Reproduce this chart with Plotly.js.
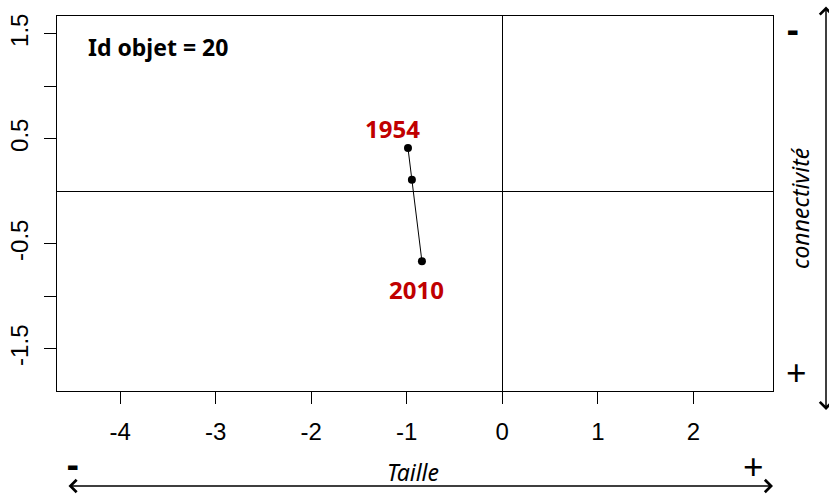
<!DOCTYPE html>
<html>
<head>
<meta charset="utf-8">
<script src="https://cdn.plot.ly/plotly-3.0.1.min.js"></script>
<style>html,body{margin:0;padding:0;background:#fff;}#chart{width:829px;height:494px;}</style>
</head>
<body>
<div id="chart"></div>
<script>
// Data
const years = [1954, 1982, 2010];
const tailleVals = [-0.987, -0.946, -0.841];
const connectVals = [0.412, 0.111, -0.667];
const xTickVals = [-4, -3, -2, -1, 0, 1, 2];
const xTickText = ['-4', '-3', '-2', '-1', '0', '1', '2'];
const yTickVals = [-1.5, -1, -0.5, 0.5, 1, 1.5];
const yTickText = ['-1.5', '', '-0.5', '0.5', '', '1.5'];
const objectId = 20;

const tickFont = {family: 'Liberation Sans, Arial, sans-serif', size: 24, color: '#000'};
const labFont = 'Noto Sans, Open Sans, sans-serif';

const trace = {
  x: tailleVals, y: connectVals, type: 'scatter', mode: 'lines+markers',
  line: {color: '#000', width: 1},
  marker: {color: '#000', size: 8},
  hoverinfo: 'skip', showlegend: false
};

const last = tailleVals.length - 1;
const layout = {
  width: 829, height: 494,
  margin: {l: 57, r: 56, t: 16, b: 103, pad: 0},
  paper_bgcolor: '#fff', plot_bgcolor: '#fff',
  showlegend: false,
  xaxis: {
    range: [-4.66, 2.833], tickvals: xTickVals, ticktext: xTickText,
    ticks: 'outside', ticklen: 12, tickwidth: 1, tickcolor: '#000',
    showgrid: false, zeroline: true, zerolinecolor: '#000', zerolinewidth: 1,
    showline: true, mirror: true, linecolor: '#000', linewidth: 1,
    tickfont: tickFont, ticklabelstandoff: 7
  },
  yaxis: {
    range: [-1.902, 1.67], tickvals: yTickVals, ticktext: yTickText,
    ticks: 'outside', ticklen: 12, tickwidth: 1, tickcolor: '#000',
    showgrid: false, zeroline: true, zerolinecolor: '#000', zerolinewidth: 1,
    showline: true, mirror: true, linecolor: '#000', linewidth: 1,
    tickangle: -90, tickfont: tickFont, ticklabelstandoff: 6
  },
  annotations: [
    {xref: 'paper', yref: 'paper', x: 29/716, y: (391-47)/375, xanchor: 'left', yanchor: 'middle',
     text: '<b>Id objet = ' + objectId + '</b>', showarrow: false,
     font: {family: labFont, size: 23, color: '#000'}},
    {x: tailleVals[0], y: connectVals[0], xref: 'x', yref: 'y', text: '<b>' + years[0] + '</b>',
     showarrow: false, xshift: -15, yshift: 20, font: {family: labFont, size: 24, color: '#C00000'}},
    {x: tailleVals[last], y: connectVals[last], xref: 'x', yref: 'y', text: '<b>' + years[last] + '</b>',
     showarrow: false, xshift: -5, yshift: -28, font: {family: labFont, size: 24, color: '#C00000'}},
    // bottom axis annotations
    {xref: 'paper', yref: 'paper', x: (413-57)/716, y: (391-472)/375, text: '<i>Taille</i>',
     showarrow: false, xanchor: 'center', yanchor: 'middle', font: {family: labFont, size: 23, color: '#000'}},
    {xref: 'paper', yref: 'paper', x: (73-57)/716, y: (391-464)/375, text: '<b>-</b>',
     showarrow: false, xanchor: 'center', yanchor: 'middle', font: {family: labFont, size: 36, color: '#000'}},
    {xref: 'paper', yref: 'paper', x: (753-57)/716, y: (391-466)/375, text: '+',
     showarrow: false, xanchor: 'center', yanchor: 'middle', font: {family: labFont, size: 36, color: '#000'}},
    {xref: 'paper', yref: 'paper', x: (773-57)/716, y: (391-486)/375, ax: -706, ay: 0,
     axref: 'pixel', ayref: 'pixel', text: '', showarrow: true, arrowside: 'end+start',
     arrowhead: 4, arrowsize: 1.6, arrowwidth: 1.5, arrowcolor: '#000', standoff: 0, startstandoff: 0},
    // right axis annotations
    {xref: 'paper', yref: 'paper', x: (800-57)/716, y: (391-208)/375, text: '<i>connectivité</i>',
     showarrow: false, textangle: -90, xanchor: 'center', yanchor: 'middle', font: {family: labFont, size: 23, color: '#000'}},
    {xref: 'paper', yref: 'paper', x: (793-57)/716, y: (391-28)/375, text: '<b>-</b>',
     showarrow: false, xanchor: 'center', yanchor: 'middle', font: {family: labFont, size: 36, color: '#000'}},
    {xref: 'paper', yref: 'paper', x: (796-57)/716, y: (391-372)/375, text: '+',
     showarrow: false, xanchor: 'center', yanchor: 'middle', font: {family: labFont, size: 36, color: '#000'}},
    {xref: 'paper', yref: 'paper', x: (826-57)/716, y: (391-410)/375, ax: 0, ay: -405,
     axref: 'pixel', ayref: 'pixel', text: '', showarrow: true, arrowside: 'end+start',
     arrowhead: 4, arrowsize: 1.6, arrowwidth: 1.5, arrowcolor: '#000', standoff: 0, startstandoff: 0}
  ]
};

Plotly.newPlot('chart', [trace], layout, {staticPlot: true, displayModeBar: false});
</script>
</body>
</html>
